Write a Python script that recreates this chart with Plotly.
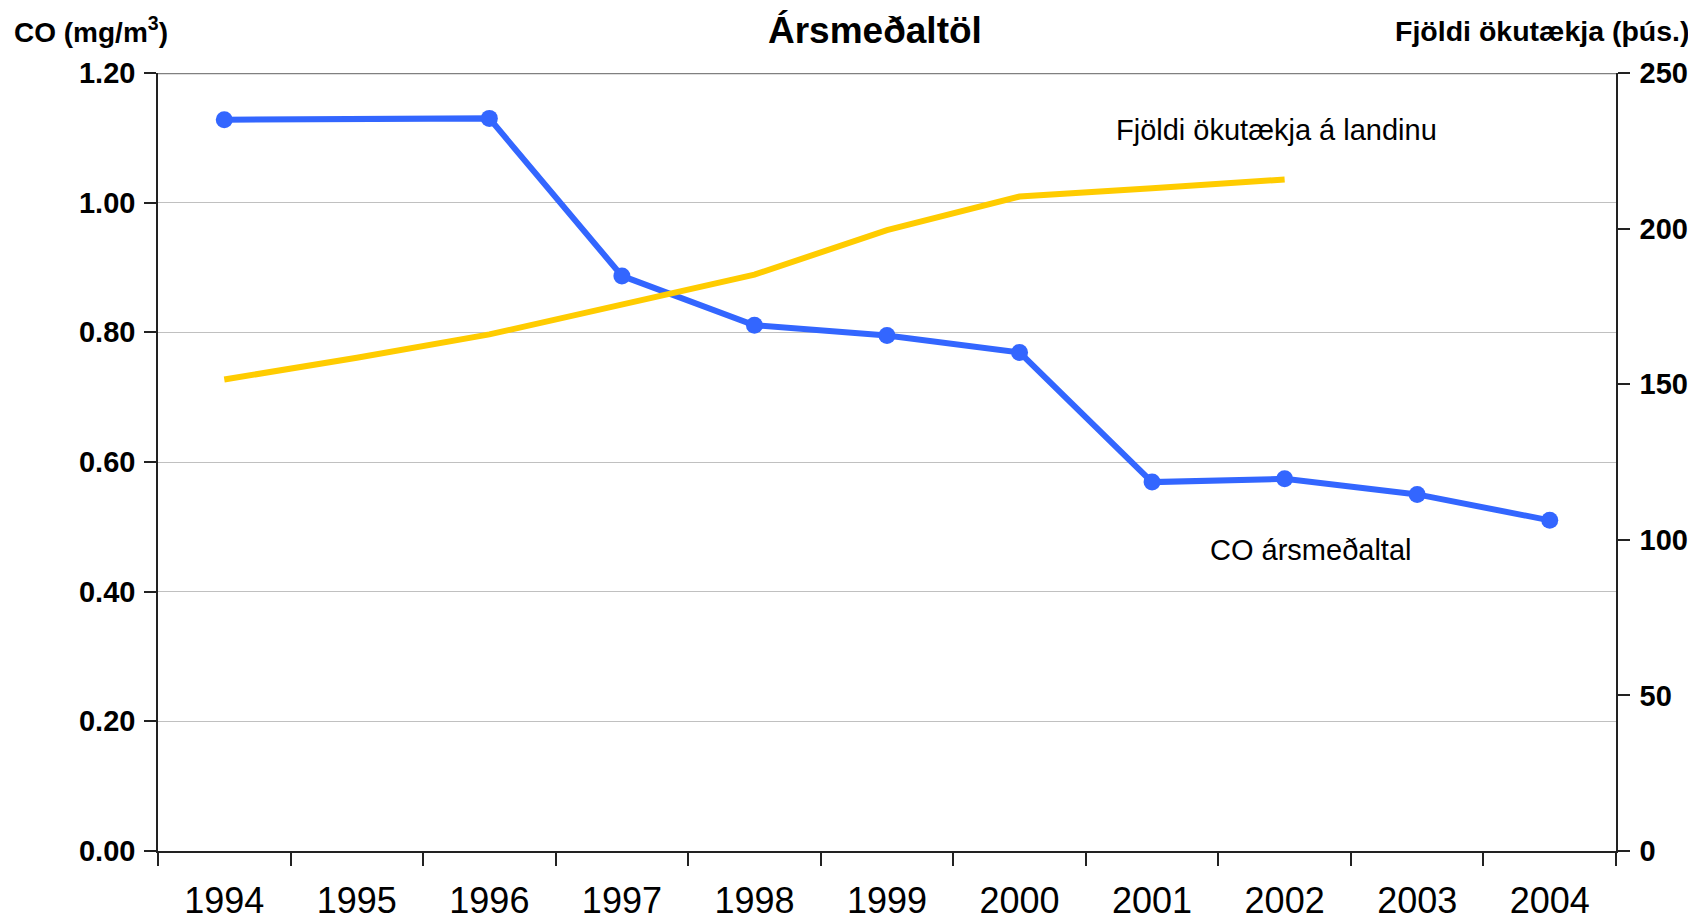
import plotly.graph_objects as go

years = ["1994", "1995", "1996", "1997", "1998", "1999", "2000", "2001", "2002", "2003", "2004"]
co_mean = [1.128, None, 1.130, 0.887, 0.811, 0.795, 0.769, 0.569, 0.574, 0.550, 0.510]
vehicles = [151.5, 158.5, 166.0, 175.7, 185.2, 199.5, 210.3, 213.0, 215.8]

FONT = "Liberation Sans, Arial, sans-serif"
BLUE = "#3366FF"
YELLOW = "#FFCC00"
AXIS = "#222222"

# page has an 8px body margin; figure fills the rest of the window
O = 8
W, H = 1696 - O, 923 - O
# plot area in page coordinates
PL, PR, PT, PB = 158, 1616, 72.5, 851
L, T = PL - O, PT - O
R = W - (PR - O)
B = H - (PB - O)
pw, ph = PR - PL, PB - PT


def px(x):
    return (x - PL) / pw


def py(y):
    return (PB - y) / ph


fig = go.Figure()
fig.add_trace(go.Scatter(
    x=years, y=co_mean, mode="lines+markers", connectgaps=True,
    line=dict(color=BLUE, width=6), marker=dict(size=17, color=BLUE),
    yaxis="y", showlegend=False, name="CO ársmeðaltal"))
fig.add_trace(go.Scatter(
    x=years[:len(vehicles)], y=vehicles, mode="lines",
    line=dict(color=YELLOW, width=6),
    yaxis="y2", showlegend=False, name="Fjöldi ökutækja á landinu"))

fig.update_layout(
    width=W, height=H,
    margin=dict(l=L, r=R, t=T, b=B, pad=0, autoexpand=False),
    paper_bgcolor="white", plot_bgcolor="white",
    font=dict(family=FONT, color="black"),
    xaxis=dict(
        type="category", categoryorder="array", categoryarray=years,
        range=[-0.5, 10.5], tickson="boundaries", ticks="outside",
        ticklen=13, tickwidth=1.5, tickcolor=AXIS, automargin=False,
        showline=True, linecolor=AXIS, linewidth=1.5, showgrid=False,
        zeroline=False, tickfont=dict(size=36, family=FONT, color="black"),
        ticklabelstandoff=17),
    yaxis=dict(
        range=[0, 1.2], dtick=0.2, tickformat=".2f", automargin=False,
        showgrid=True, gridcolor="#C0C0C0", gridwidth=1,
        ticks="outside", ticklen=12, tickwidth=1.5, tickcolor=AXIS,
        showline=True, linecolor=AXIS, linewidth=1.5, zeroline=False,
        tickfont=dict(size=29, family=FONT, color="black", weight="bold"),
        ticklabelstandoff=3),
    yaxis2=dict(
        range=[0, 250], dtick=50, overlaying="y", side="right",
        automargin=False,
        showgrid=False, ticks="outside", ticklen=12, tickwidth=1.5,
        tickcolor=AXIS, showline=True, linecolor=AXIS, linewidth=1.5,
        zeroline=False,
        tickfont=dict(size=29, family=FONT, color="black", weight="bold"),
        ticklabelstandoff=4),
    shapes=[dict(type="line", xref="paper", yref="y", x0=0, x1=1, y0=1.2, y1=1.2,
                 line=dict(color="#808080", width=2.5), layer="below")],
    annotations=[
        dict(text="<b>Ársmeðaltöl</b>", xref="paper", yref="paper",
             x=px(875), y=py(30), xanchor="center", yanchor="middle",
             showarrow=False, font=dict(size=37, family=FONT, color="black")),
        dict(text="<b>CO (mg/m<sup>3</sup>)</b>", xref="paper", yref="paper",
             x=px(12), y=py(29), xanchor="left", yanchor="middle",
             showarrow=False, font=dict(size=28, family=FONT, color="black")),
        dict(text="<b>Fjöldi ökutækja (þús.)</b>", xref="paper", yref="paper",
             x=px(1692), y=py(30), xanchor="right", yanchor="middle",
             showarrow=False, font=dict(size=28.5, family=FONT, color="black")),
        dict(text="Fjöldi ökutækja á landinu", xref="paper", yref="paper",
             x=px(1114), y=py(130), xanchor="left", yanchor="middle",
             showarrow=False, font=dict(size=29, family=FONT, color="black")),
        dict(text="CO ársmeðaltal", xref="paper", yref="paper",
             x=px(1208), y=py(550), xanchor="left", yanchor="middle",
             showarrow=False, font=dict(size=29, family=FONT, color="black")),
    ],
)

fig.write_html("out.html")
